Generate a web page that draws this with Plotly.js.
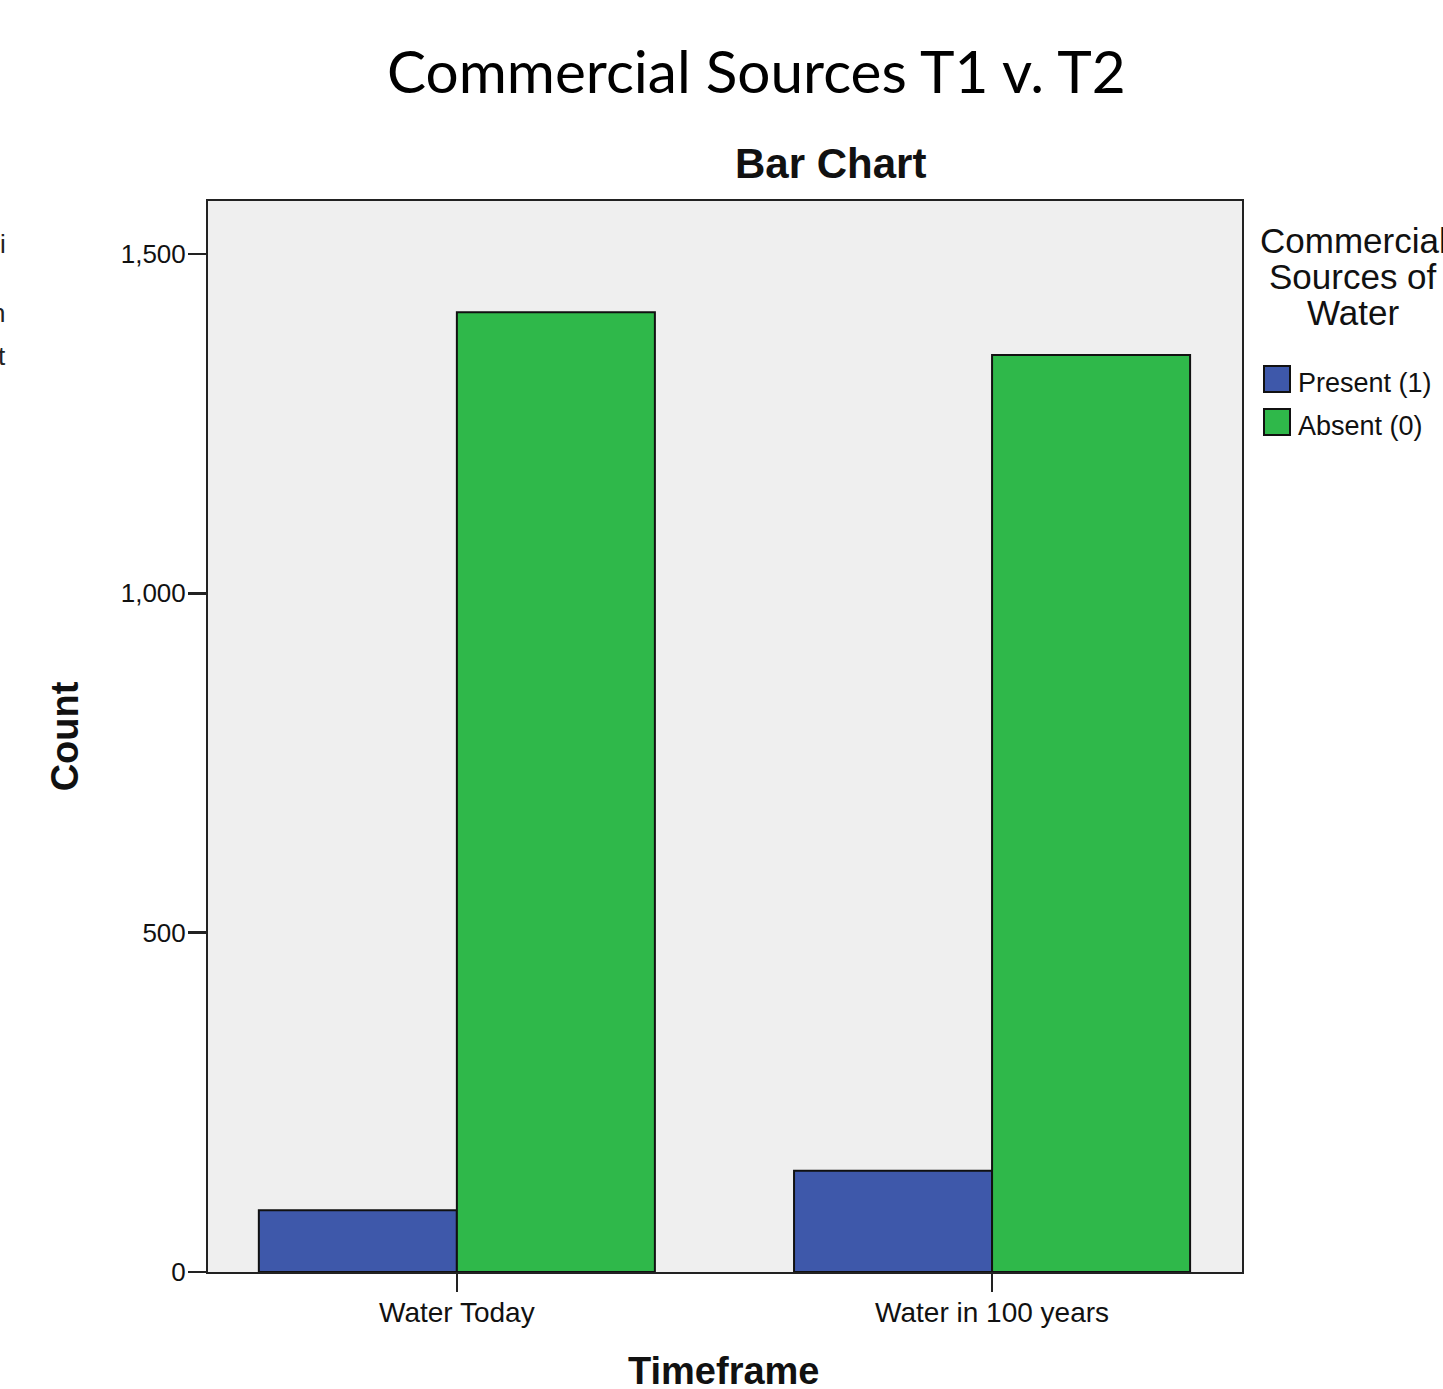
<!DOCTYPE html>
<html>
<head>
<meta charset="utf-8">
<script src="https://cdn.plot.ly/plotly-3.0.1.min.js"></script>
<style>html,body{margin:0;padding:0;background:#fff;}#chart{width:1443px;height:1389px;}</style>
</head>
<body>
<div id="chart"></div>
<script>
const categories = ["Water Today", "Water in 100 years"];
const seriesNames = ["Present (1)", "Absent (0)"];
const presentCounts = [91, 149];
const absentCounts = [1414, 1351];
const yTickValues = [0, 500, 1000, 1500];
const yTickLabels = ["0", "500", "1,000", "1,500"];
const legendTitleLines = ["Commercial", "Sources of", "Water"];
const seriesColors = ["#3E58AA", "#2FB84A"];

const W = 1443, H = 1389;
const L = 208, R = 1242, T = 201, B = 1272.5;
const px = x => (x - L) / (R - L);
const py = y => (B - y) / (B - T);

const traces = [
  {type: "bar", name: seriesNames[0], x: categories, y: presentCounts,
   marker: {color: seriesColors[0], line: {color: "#111", width: 2}}, showlegend: false, hoverinfo: "skip"},
  {type: "bar", name: seriesNames[1], x: categories, y: absentCounts,
   marker: {color: seriesColors[1], line: {color: "#111", width: 2}}, showlegend: false, hoverinfo: "skip"}
];

const arial = "Liberation Sans, Arial, sans-serif";
const annotations = [
  {text: "Commercial Sources T1 v. T2", xref: "paper", yref: "paper", x: px(756), y: py(70),
   xanchor: "center", yanchor: "middle", showarrow: false, font: {family: "Lato, Noto Sans, sans-serif", size: 58.5, color: "#000"}},
  {text: "<b>Bar Chart</b>", xref: "paper", yref: "paper", x: px(830), y: py(163),
   xanchor: "center", yanchor: "middle", showarrow: false, font: {family: arial, size: 42, color: "#111"}},
  {text: "<b>Timeframe</b>", xref: "paper", yref: "paper", x: px(724), y: py(1349),
   xanchor: "center", yanchor: "top", showarrow: false, font: {family: arial, size: 38, color: "#111"}},
  {text: "i", xref: "paper", yref: "paper", x: px(8), y: py(244), xanchor: "right", yanchor: "middle", showarrow: false, font: {family: arial, size: 26, color: "#222"}},
  {text: "n", xref: "paper", yref: "paper", x: px(7), y: py(313), xanchor: "right", yanchor: "middle", showarrow: false, font: {family: arial, size: 26, color: "#222"}},
  {text: "t", xref: "paper", yref: "paper", x: px(8), y: py(356), xanchor: "right", yanchor: "middle", showarrow: false, font: {family: arial, size: 26, color: "#222"}}
];
const titleCenters = [241, 277, 313];
legendTitleLines.forEach((line, i) => {
  annotations.push({text: line, xref: "paper", yref: "paper", x: px(1353), y: py(titleCenters[i]),
    xanchor: "center", yanchor: "middle", showarrow: false, font: {family: arial, size: 35, color: "#111"}});
});
const shapes = [];
const legendTops = [366, 409];
seriesNames.forEach((name, i) => {
  shapes.push({type: "rect", xref: "paper", yref: "paper", x0: px(1264), x1: px(1290), y0: py(legendTops[i]), y1: py(legendTops[i] + 26),
    fillcolor: seriesColors[i], line: {color: "#111", width: 2}});
  annotations.push({text: name, xref: "paper", yref: "paper", x: px(1296), y: py(legendTops[i] + 17),
    xanchor: "left", yanchor: "middle", showarrow: false, font: {family: arial, size: 27, color: "#111"}});
});

const layout = {
  width: W, height: H,
  margin: {l: L, r: W - R, t: T, b: H - B, pad: 0},
  paper_bgcolor: "#fff", plot_bgcolor: "#EFEFEF",
  barmode: "group", bargap: 0.26, bargroupgap: 0,
  showlegend: false,
  xaxis: {type: "category", range: [-0.465, 1.467], showline: true, mirror: true, linecolor: "#222", linewidth: 2,
    ticks: "outside", ticklen: 18, tickwidth: 2.5, tickcolor: "#222", showgrid: false, zeroline: false,
    ticklabelstandoff: -4,
    tickfont: {family: arial, size: 28, color: "#111"}},
  yaxis: {range: [0, 1578], showline: true, mirror: true, linecolor: "#222", linewidth: 2,
    ticks: "outside", ticklen: 18, tickwidth: 2.5, tickcolor: "#222", showgrid: false, zeroline: false,
    ticklabelstandoff: -3,
    tickvals: yTickValues, ticktext: yTickLabels, tickfont: {family: arial, size: 26, color: "#111"},
    title: {text: "<b>Count</b>", font: {family: arial, size: 38, color: "#111"}, standoff: 30}},
  annotations: annotations, shapes: shapes
};
Plotly.newPlot("chart", traces, layout, {staticPlot: true, displayModeBar: false});
</script>
</body>
</html>
